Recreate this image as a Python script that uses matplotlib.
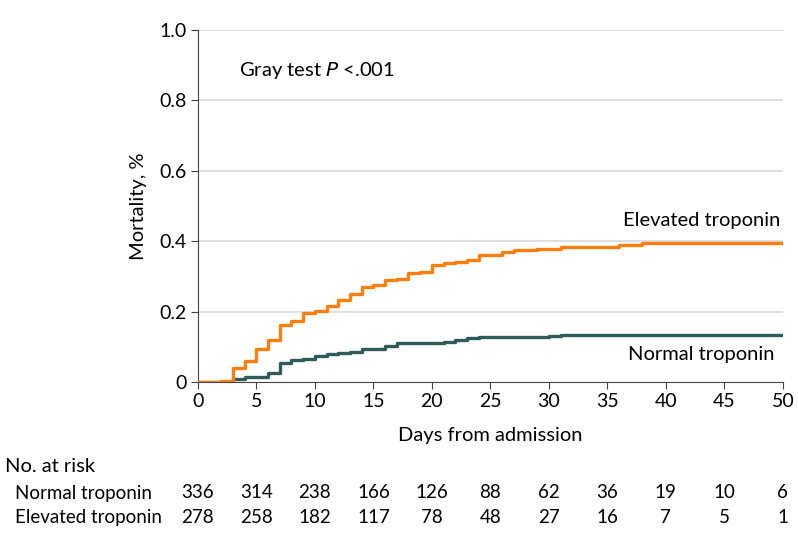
import numpy as np
import matplotlib
matplotlib.use("Agg")
import matplotlib.pyplot as plt

plt.rcParams["font.family"] = ["Lato", "DejaVu Sans"]

# cumulative incidence step curves
elev_days = [0, 2, 3, 4, 5, 6, 7, 8, 9, 10, 11, 12, 13, 14, 15, 16, 17, 18, 19, 20,
             21, 22, 23, 24, 26, 27, 29, 31, 36, 38, 50]
elev_mort = [0, 0.003, 0.039, 0.061, 0.094, 0.119, 0.162, 0.174, 0.195, 0.203, 0.216,
             0.233, 0.249, 0.269, 0.277, 0.290, 0.293, 0.309, 0.313, 0.332, 0.337,
             0.341, 0.348, 0.361, 0.370, 0.374, 0.378, 0.383, 0.389, 0.394, 0.394]
norm_days = [0, 3, 4, 6, 7, 8, 9, 10, 11, 12, 13, 14, 16, 17, 21, 22, 23, 24, 30, 31, 50]
norm_mort = [0, 0.008, 0.015, 0.025, 0.055, 0.062, 0.066, 0.075, 0.080, 0.083, 0.086,
             0.093, 0.102, 0.110, 0.114, 0.119, 0.124, 0.128, 0.131, 0.134, 0.134]

risk_days = [0, 5, 10, 15, 20, 25, 30, 35, 40, 45, 50]
risk_normal = [336, 314, 238, 166, 126, 88, 62, 36, 19, 10, 6]
risk_elevated = [278, 258, 182, 117, 78, 48, 27, 16, 7, 5, 1]

orange = "#FF7F0E"
green = "#2F5B58"

fig = plt.figure(figsize=(7.98, 5.47), dpi=100)
ax = fig.add_axes([0.248, 0.3016, 0.733, 0.6435])

for y in [0.2, 0.4, 0.6, 0.8, 1.0]:
    ax.axhline(y, color="#d9d9d9", linewidth=1.2, zorder=0)

ax.step(norm_days, norm_mort, where="post", color=green, linewidth=2.4, zorder=3)
ax.step(elev_days, elev_mort, where="post", color=orange, linewidth=2.4, zorder=3)

ax.set_xlim(0, 50)
ax.set_ylim(0, 1.0)
ax.set_xticks(risk_days)
ax.set_yticks([0, 0.2, 0.4, 0.6, 0.8, 1.0])
ax.set_yticklabels(["0", "0.2", "0.4", "0.6", "0.8", "1.0"])
ax.tick_params(labelsize=14, length=5, color="#444444", pad=3)
for s in ["top", "right"]:
    ax.spines[s].set_visible(False)
for s in ["left", "bottom"]:
    ax.spines[s].set_color("#444444")
ax.set_xlabel("Days from admission", fontsize=14.5, labelpad=12)
ax.set_ylabel("Mortality, %", fontsize=14.5, labelpad=9)

ax.text(49.8, 0.458, "Elevated troponin", ha="right", va="center", fontsize=14.5)
ax.text(49.3, 0.078, "Normal troponin", ha="right", va="center", fontsize=14.5)
ax.text(3.5, 0.885, "Gray test $\\it{P}$ <.001", ha="left", va="center", fontsize=14.5)

tr = ax.get_xaxis_transform()
fig.text(5 / 798, 1 - 467 / 547, "No. at risk", ha="left", va="center", fontsize=14.5)
fig.text(15 / 798, 1 - 493 / 547, "Normal troponin", ha="left", va="center", fontsize=13.5)
fig.text(15 / 798, 1 - 518 / 547, "Elevated troponin", ha="left", va="center", fontsize=13.5)
for d, n, e in zip(risk_days, risk_normal, risk_elevated):
    ax.text(d, -0.315, str(n), transform=tr, ha="center", va="center", fontsize=13.5)
    ax.text(d, -0.386, str(e), transform=tr, ha="center", va="center", fontsize=13.5)

fig.savefig("out.png", dpi=100)
